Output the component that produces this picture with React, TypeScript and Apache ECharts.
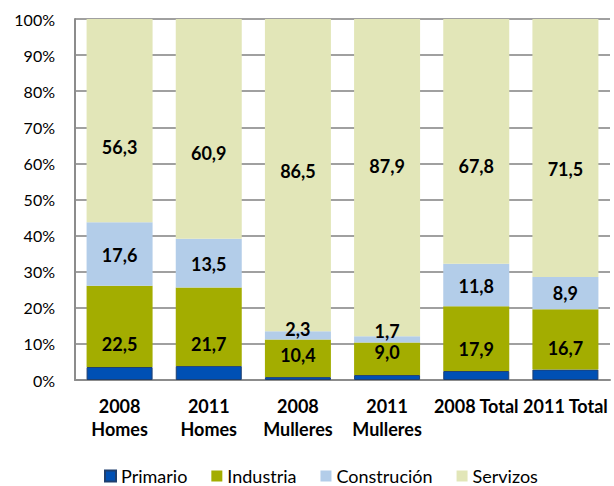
import React, { useEffect, useRef } from "react";
import * as echarts from "echarts";

const categories = ["2008\nHomes", "2011\nHomes", "2008\nMulleres", "2011\nMulleres", "2008 Total", "2011 Total"];
const primario = [3.6, 3.9, 0.8, 1.4, 2.5, 2.9];
const industria = [22.5, 21.7, 10.4, 9.0, 17.9, 16.7];
const construcion = [17.6, 13.5, 2.3, 1.7, 11.8, 8.9];
const servizos = [56.3, 60.9, 86.5, 87.9, 67.8, 71.5];
const yTicks = [0, 10, 20, 30, 40, 50, 60, 70, 80, 90, 100];

// label nudges (px) so labels sit where the reference places them
const nudgeIndustria = [18, 17, -3, -7, 10, 9];
const nudgeConstrucion = [1, 1, -6, -8, 1, 0];
const nudgeServizos = [26, 24, -4, -12, 25, 21];

const FONT = "Lato, 'Open Sans', sans-serif";

export default function App() {
  const ref = useRef<HTMLDivElement>(null);
  useEffect(() => {
    const chart = echarts.init(ref.current!, null, { renderer: "svg" });
    const label = {
      show: true,
      position: "inside",
      color: "#000",
      fontWeight: "bold",
      fontSize: 18,
      fontFamily: FONT,
      formatter: (p: any) => Number(p.value).toFixed(1).replace(".", ","),
    };
    const mk = (
      name: string,
      data: number[],
      color: string,
      nudge: number[] | null,
      border?: string
    ) => ({
      name,
      type: "bar",
      stack: "t",
      data,
      barWidth: 66,
      itemStyle: border ? { color, borderColor: border, borderWidth: 1 } : { color },
      label: nudge ? label : { show: false },
      labelLayout: nudge
        ? (p: any) => ({ dy: nudge[p.dataIndex], hideOverlap: false })
        : undefined,
      emphasis: { disabled: true },
    });
    chart.setOption({
      animation: false,
      grid: { left: 75, right: 4, top: 19, bottom: 106, containLabel: false },
      legend: {
        top: 467,
        left: 104,
        padding: 0,
        itemWidth: 11,
        itemHeight: 11,
        itemGap: 24,
        icon: "rect",
        textStyle: { fontSize: 18, color: "#000", fontFamily: FONT },
        data: ["Primario", "Industria", "Construción", "Servizos"],
      },
      xAxis: {
        type: "category",
        data: categories,
        axisLine: { lineStyle: { color: "#8c8c8c", width: 2 } },
        axisTick: { show: false },
        axisLabel: {
          color: "#000",
          fontWeight: "bold",
          fontSize: 18,
          fontFamily: FONT,
          lineHeight: 23,
          margin: 14,
          interval: 0,
        },
      },
      yAxis: {
        type: "value",
        min: 0,
        max: 100,
        interval: 10,
        axisLine: { show: true, lineStyle: { color: "#8c8c8c", width: 2 } },
        axisTick: { show: false },
        splitLine: { lineStyle: { color: "#a0a0a0", width: 2 } },
        axisLabel: {
          color: "#000",
          fontSize: 16,
          fontFamily: FONT,
          margin: 20,
          formatter: (v: number) => (yTicks.includes(v) ? v + "%" : ""),
        },
      },
      series: [
        mk("Primario", primario, "#0050b4", null, "#1f3f6e"),
        mk("Industria", industria, "#a3ad00", nudgeIndustria),
        mk("Construción", construcion, "#b3cde9", nudgeConstrucion),
        mk("Servizos", servizos, "#e2e6b8", nudgeServizos),
      ],
    });
    return () => chart.dispose();
  }, []);
  return <div ref={ref} style={{ width: 614, height: 486, position: "absolute", left: 0, top: 0 }} />;
}
